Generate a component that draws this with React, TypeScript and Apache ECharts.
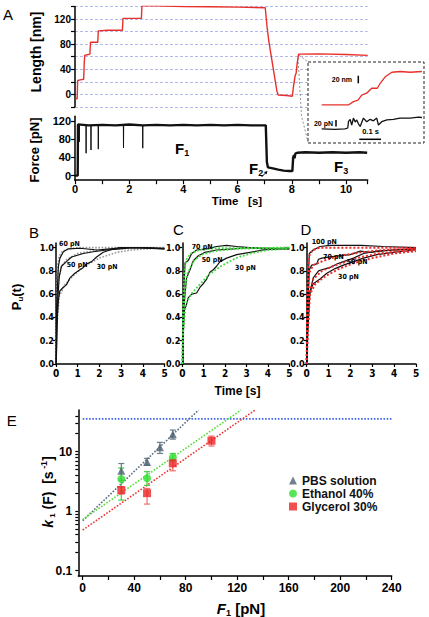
import React, { useEffect, useRef } from 'react';
import * as echarts from 'echarts';

const FONT = "'Liberation Sans', Arial, Helvetica, sans-serif";
const NARROW = "'Liberation Sans Narrow', 'DejaVu Sans Condensed', 'Liberation Sans', sans-serif";

// ---------- Panel A: length trace (time s, length nm)
const lengthTrace: number[][] = [
  [0.02, -7], [0.08, -7], [0.09, 10], [0.1, 22], [0.2, 23], [0.32, 24], [0.34, 50], [0.36, 62],
  [0.45, 63], [0.55, 64], [0.57, 83], [0.84, 83], [0.86, 101], [1.2, 102], [1.75, 102], [1.77, 121],
  [2.45, 121], [2.47, 141], [3, 141], [4, 140], [5, 139.5], [6, 139], [7.02, 138], [7.08, 110],
  [7.15, 85], [7.3, 45], [7.45, 5], [7.5, -1], [7.8, -2], [8.02, -3], [8.06, 12], [8.12, 29],
  [8.16, 34], [8.2, 50], [8.25, 64], [9, 64.5], [10, 63.5], [10.8, 62],
];
// ---------- Panel A: force trace (time s, force pN)
const forceTrace: number[][] = [
  [0, 0], [0.1, 0], [0.11, 112], [0.5, 110], [1, 111], [1.5, 110], [2, 112], [2.5, 110], [3, 111],
  [3.5, 110], [4, 111], [4.5, 110], [5, 111], [5.5, 110], [6, 111], [6.5, 110], [7.04, 110],
  [7.08, 30], [7.12, 18], [7.3, 16], [7.5, 13], [7.7, 11], [7.9, 10], [8.02, 10], [8.05, 40],
  [8.08, 45], [8.1, 38], [8.13, 48], [8.2, 50], [8.5, 51], [9, 50], [9.5, 51], [10, 50], [10.5, 51],
  [10.78, 50],
];
const forceSpikes: number[][] = [[0.16, 74], [0.41, 49], [0.59, 56], [0.86, 58], [1.79, 61], [2.5, 60]];
const lengthLabels = [0, 40, 80, 120];
const forceLabels = [0, 40, 80, 120];

// ---------- Inset (time s from inset start; length nm, force pN relative)
const insetLength: number[][] = [
  [0, 0], [0.123, 0], [0.146, 8.7], [0.167, 13], [0.184, 26], [0.207, 31], [0.23, 44], [0.256, 44],
  [0.269, 57], [0.292, 74], [0.323, 86], [0.361, 88], [0.407, 86], [0.461, 88],
];
const insetForce: number[][] = [
  [0, 0], [0.061, -1.7], [0.107, 0], [0.12, 3], [0.123, 24], [0.131, 32], [0.138, 13], [0.146, 36],
  [0.154, 23], [0.161, 30], [0.169, 17], [0.177, 8], [0.192, 36], [0.207, 24], [0.223, 32],
  [0.238, 27], [0.253, 36], [0.261, 13], [0.276, 24], [0.3, 30], [0.33, 32], [0.36, 36], [0.407, 36],
  [0.445, 39], [0.461, 38],
];

// ---------- Panels B, C, D: P_u(t)
const b60 = [[0.01, 0], [0.03, 0.5], [0.11, 0.84], [0.18, 0.91], [0.34, 0.965], [0.57, 0.99], [1.1, 0.995], [1.9, 0.98], [2.5, 0.99], [3.1, 1.0], [4.0, 1.0], [5, 0.995]];
const b50 = [[0.01, 0], [0.08, 0.55], [0.15, 0.75], [0.25, 0.84], [0.48, 0.88], [0.72, 0.92], [1.26, 0.95], [1.72, 0.965], [2.33, 0.98], [2.95, 0.99], [3.5, 1.0], [5, 0.99]];
const b30 = [[0.01, 0], [0.03, 0.32], [0.11, 0.55], [0.18, 0.63], [0.34, 0.66], [0.48, 0.68], [0.64, 0.74], [0.87, 0.78], [1.1, 0.81], [1.26, 0.83], [1.41, 0.86], [1.64, 0.88], [1.87, 0.92], [2.18, 0.96], [2.49, 0.98], [2.95, 1.0], [4, 1.0], [5, 0.99]];
const bFit60 = [[0, 0], [0.03, 0.6], [0.08, 0.85], [0.15, 0.93], [0.3, 0.97], [0.6, 0.99], [1, 1], [5, 1]];
const bFit50 = [[0, 0], [0.05, 0.5], [0.12, 0.72], [0.25, 0.84], [0.5, 0.9], [1, 0.95], [2, 0.98], [3, 0.99], [5, 1]];
const bFit30 = [[0, 0], [0.05, 0.35], [0.15, 0.58], [0.4, 0.68], [0.8, 0.76], [1.3, 0.84], [2, 0.91], [2.8, 0.96], [3.5, 0.98], [5, 1]];

const c70 = [[0.01, 0], [0.05, 0.55], [0.13, 0.87], [0.28, 0.89], [0.44, 0.95], [0.67, 0.98], [1.14, 0.99], [1.6, 1.01], [2.07, 1.02], [2.54, 1.01], [3.16, 1.0], [3.78, 0.99], [5, 0.99]];
const c50 = [[0.01, 0], [0.05, 0.41], [0.13, 0.61], [0.2, 0.74], [0.36, 0.81], [0.52, 0.89], [0.75, 0.93], [1.06, 0.96], [1.6, 0.98], [2.38, 0.99], [3.16, 1.0], [5, 0.99]];
const c30 = [[0.01, 0], [0.05, 0.27], [0.1, 0.47], [0.18, 0.5], [0.28, 0.57], [0.44, 0.6], [0.67, 0.61], [0.83, 0.66], [0.98, 0.69], [1.14, 0.73], [1.3, 0.79], [1.45, 0.81], [1.6, 0.84], [1.76, 0.88], [2.07, 0.91], [2.54, 0.94], [3.16, 0.96], [3.78, 0.98], [4.4, 0.99], [5, 1.0]];
const cFit70 = [[0, 0], [0.04, 0.55], [0.1, 0.8], [0.2, 0.9], [0.4, 0.95], [0.8, 0.98], [1.5, 0.995], [5, 1]];
const cFit50 = [[0, 0], [0.05, 0.42], [0.12, 0.63], [0.25, 0.78], [0.5, 0.88], [0.9, 0.94], [1.5, 0.97], [2.5, 0.99], [5, 1]];
const cFit30 = [[0, 0], [0.05, 0.3], [0.15, 0.5], [0.4, 0.6], [0.8, 0.68], [1.2, 0.76], [1.8, 0.84], [2.5, 0.91], [3.2, 0.95], [4, 0.98], [5, 0.99]];

const d100 = [[0.01, 0], [0.03, 0.55], [0.12, 0.95], [0.3, 0.98], [0.61, 1.01], [1.07, 1.02], [2.5, 1.02], [3.5, 1.01], [5, 1.0]];
const d70 = [[0.01, 0], [0.05, 0.47], [0.12, 0.81], [0.23, 0.85], [0.46, 0.86], [0.54, 0.9], [0.69, 0.91], [1.07, 0.92], [1.45, 0.93], [1.99, 0.94], [2.45, 0.97], [2.9, 0.96], [3.36, 0.97], [3.97, 0.98], [5, 0.99]];
const d50 = [[0.01, 0], [0.05, 0.41], [0.12, 0.59], [0.3, 0.74], [0.54, 0.8], [0.69, 0.81], [1.07, 0.83], [1.38, 0.86], [1.68, 0.88], [2.14, 0.91], [2.6, 0.95], [3.21, 0.97], [3.97, 0.98], [5, 0.99]];
const d30 = [[0.01, 0], [0.05, 0.27], [0.15, 0.62], [0.3, 0.69], [0.61, 0.73], [0.92, 0.78], [1.3, 0.82], [1.68, 0.85], [2.14, 0.88], [2.6, 0.91], [3.21, 0.94], [3.97, 0.96], [4.9, 0.98]];
const dFit100 = [[0, 0], [0.03, 0.6], [0.08, 0.88], [0.15, 0.95], [0.3, 0.98], [0.6, 1.0], [5, 1.0]];
const dFit70 = [[0, 0], [0.04, 0.5], [0.1, 0.78], [0.3, 0.85], [0.8, 0.89], [1.5, 0.93], [2.5, 0.96], [3.5, 0.98], [5, 0.99]];
const dFit50 = [[0, 0], [0.05, 0.42], [0.12, 0.6], [0.3, 0.73], [0.7, 0.8], [1.2, 0.84], [1.8, 0.88], [2.5, 0.92], [3.3, 0.95], [4.2, 0.97], [5, 0.98]];
const dFit30 = [[0, 0], [0.05, 0.3], [0.15, 0.6], [0.4, 0.69], [0.9, 0.76], [1.5, 0.82], [2.2, 0.87], [3, 0.91], [4, 0.95], [5, 0.97]];

// ---------- Panel E: k1(F)
const pbsF = [30, 50, 60, 70];
const pbsK = [4.75, 6.7, 11.8, 19.5];
const pbsLo = [3.3, 5.9, 9.3, 16.2];
const pbsHi = [6.3, 7.7, 14.3, 23];
const ethF = [30, 50, 70];
const ethK = [3.45, 3.55, 8.0];
const ethLo = [1.53, 2.7, 7.0];
const ethHi = [5.3, 4.6, 9.3];
const glyF = [30, 50, 70, 100];
const glyK = [2.25, 2.0, 6.35, 15.2];
const glyLo = [1.93, 1.31, 4.75, 12.4];
const glyHi = [2.56, 2.4, 7.4, 18.2];
const fitPBS = [[0, 0.69], [90, 50]];
const fitEth = [[0, 0.72], [123, 50]];
const fitGly = [[0, 0.48], [134, 50]];
const plateau = [[0, 35.5], [240, 35.5]];
const eXLabels = [0, 40, 80, 120, 160, 200, 240];
const eXTicks = [0, 20, 40, 60, 80, 100, 120, 140, 160, 180, 200, 220, 240];
const eYLabels = [0.1, 1, 10];
const eYTicks = [0.1, 0.2, 0.3, 0.4, 0.5, 0.6, 0.7, 0.8, 0.9, 1, 2, 3, 4, 5, 6, 7, 8, 9, 10, 20, 30, 40];

const C_PBS = '#4d6272';
const C_ETH = '#2ee02e';
const C_GLY = '#ee2222';

function mkAxis(gridIndex: number, extra: any, label: any = {}, tick: any = {}) {
  return {
    gridIndex,
    type: 'value',
    axisLine: { show: true, onZero: false, lineStyle: { color: '#000', width: 1.5 } },
    axisTick: { show: true, inside: false, length: 4, lineStyle: { color: '#000', width: 1.2 }, ...tick },
    axisLabel: { color: '#000', fontFamily: FONT, fontSize: 11, fontWeight: 'bold', margin: 4, ...label },
    splitLine: { show: false },
    ...extra,
  };
}

function line(data: any[], xi: number, yi: number, color: string, width: number, type: any = 'solid', z = 2) {
  return {
    type: 'line', xAxisIndex: xi, yAxisIndex: yi, data, showSymbol: false, symbol: 'none',
    lineStyle: { color, width, type }, z, silent: true, animation: false,
  };
}

function errSeries(xs: number[], lo: number[], hi: number[], color: string) {
  return {
    type: 'custom', xAxisIndex: 5, yAxisIndex: 5, silent: true, z: 3,
    data: xs.map((x, i) => [x, lo[i], hi[i]]),
    encode: { x: 0, y: [1, 2] },
    renderItem: (params: any, api: any) => {
      const x = api.value(0);
      const p1 = api.coord([x, api.value(2)]);
      const p2 = api.coord([x, api.value(1)]);
      const w = 3;
      const st = { stroke: color, lineWidth: 1.2 };
      return {
        type: 'group',
        children: [
          { type: 'line', shape: { x1: p1[0], y1: p1[1], x2: p2[0], y2: p2[1] }, style: st },
          { type: 'line', shape: { x1: p1[0] - w, y1: p1[1], x2: p1[0] + w, y2: p1[1] }, style: st },
          { type: 'line', shape: { x1: p2[0] - w, y1: p2[1], x2: p2[0] + w, y2: p2[1] }, style: st },
        ],
      };
    },
  };
}

function txt(text: string, x: number, y: number, font: string, align = 'left', extra: any = {}) {
  return {
    type: 'text', x, y, z: 10, silent: true, ...extra,
    style: { text, font, fill: '#000', textAlign: align, align, textVerticalAlign: 'middle', verticalAlign: 'middle' },
  };
}

function rich(text: string, x: number, y: number, richStyles: any, align = 'left', rotation = 0) {
  return {
    type: 'text', x, y, rotation, z: 10, silent: true,
    style: { text, rich: richStyles, fill: '#000', textAlign: align, align, textVerticalAlign: 'middle', verticalAlign: 'middle' },
  };
}

function hline(x1: number, y1: number, x2: number, y2: number, color = '#000', width = 1, dash: any = null) {
  return {
    type: 'line', z: 10, silent: true,
    shape: { x1, y1, x2, y2 },
    style: { stroke: color, lineWidth: width, lineDash: dash },
  };
}

export default function App() {
  const ref = useRef<HTMLDivElement>(null);
  useEffect(() => {
    if (!ref.current) return;
    const chart = echarts.init(ref.current, null, { renderer: 'svg' });

    const spikeData: any[] = [];
    forceSpikes.forEach(([t, lo]) => {
      spikeData.push([t - 0.006, 110], [t, lo], [t + 0.006, 110], [t, '-']);
    });

    const yPu = (gi: number) => mkAxis(gi, { min: 0, max: 1.04, interval: 0.2 },
      { fontFamily: NARROW, fontSize: 9, margin: 2, formatter: (v: number) => v.toFixed(1) }, { length: 3 });
    const xPu = (gi: number) => mkAxis(gi, { min: 0, max: 5, interval: 1 },
      { fontFamily: NARROW, fontSize: 10, margin: 4 }, { length: 3 });

    const subRich = (size: number) => ({
      a: { font: `bold ${size}px ${FONT}`, lineHeight: size + 3, verticalAlign: 'middle' },
      i: { font: `italic bold ${size}px ${FONT}`, lineHeight: size + 3, verticalAlign: 'middle' },
      s: { font: `bold ${Math.round(size * 0.58)}px ${FONT}`, lineHeight: Math.round(size * 0.6), verticalAlign: 'bottom' },
      u: { font: `bold ${Math.round(size * 0.62)}px ${FONT}`, lineHeight: Math.round(size * 0.6), verticalAlign: 'top' },
    });

    const pnFont = `bold 7px ${NARROW}`;

    const option: any = {
      animation: false,
      backgroundColor: '#fff',
      grid: [
        { left: 75, top: 6.45, width: 292.7, height: 100.4 },
        { left: 75, top: 116.2, width: 292.7, height: 64 },
        { left: 56, top: 243, width: 108.5, height: 121 },
        { left: 182.3, top: 243, width: 107, height: 121 },
        { left: 306.7, top: 243, width: 109.3, height: 121 },
        { left: 78.3, top: 410, width: 313.4, height: 166 },
        { left: 321.7, top: 62, width: 100, height: 81 },
      ],
      xAxis: [
        { gridIndex: 0, type: 'value', min: 0, max: 10.8, show: false },
        mkAxis(1, { min: 0, max: 10.8, interval: 1 },
          { formatter: (v: number) => (v % 2 === 0 ? String(v) : ''), margin: 3 }),
        xPu(2), xPu(3), xPu(4),
        mkAxis(5, { min: -3.4, max: 240 },
          { fontSize: 12, margin: 6, customValues: eXLabels, formatter: (v: number) => String(Math.round(v)) },
          { length: 4, customValues: eXTicks }),
        { gridIndex: 6, type: 'value', min: 0, max: 0.46, show: false },
      ],
      yAxis: [
        mkAxis(0, {
          min: -20, max: 140, interval: 20,
          splitLine: { show: true, lineStyle: { color: '#b4b8ea', width: 1, type: [3, 2] } },
        }, { fontSize: 10, formatter: (v: number) => (lengthLabels.indexOf(v) >= 0 ? String(v) : '') }),
        mkAxis(1, { min: -10, max: 130, interval: 10 },
          { customValues: forceLabels, formatter: (v: number) => (forceLabels.indexOf(v) >= 0 ? String(v) : '') },
          { customValues: forceLabels }),
        yPu(2), yPu(3), yPu(4),
        mkAxis(5, { type: 'log', logBase: 10, min: 0.081, max: 50 },
          { fontSize: 12, margin: 6, customValues: eYLabels, formatter: (v: number) => (v < 0.5 ? '0.1' : String(Math.round(v))) },
          { length: 3, customValues: eYTicks }),
        { gridIndex: 6, type: 'value', min: -100, max: 113, show: false },
        { gridIndex: 6, type: 'value', min: -47, max: 223, show: false },
      ],
      legend: {
        data: [
          { name: 'PBS solution', icon: 'triangle' },
          { name: 'Ethanol 40%', icon: 'circle' },
          { name: 'Glycerol 30%', icon: 'rect' },
        ],
        orient: 'vertical', left: 289, top: 474, itemWidth: 8, itemHeight: 8, itemGap: 0,
        padding: 0,
        textStyle: { fontFamily: FONT, fontSize: 12, fontWeight: 'bold', color: '#111', lineHeight: 13 },
        selectedMode: false,
      },
      series: [
        // Panel A
        line(lengthTrace, 0, 0, '#e8302a', 1.4),
        line(forceTrace, 1, 1, '#111', 2.4),
        line(spikeData, 1, 1, '#111', 1),
        // Inset
        { ...line(insetLength, 6, 6, '#e8302a', 1.3), z: 12 },
        { ...line(insetForce, 6, 7, '#111', 1.3), z: 12 },
        // B
        line(bFit60, 2, 2, '#9a9a9a', 1.6, 'dotted'),
        line(bFit50, 2, 2, '#9a9a9a', 1.6, 'dotted'),
        line(bFit30, 2, 2, '#9a9a9a', 1.6, 'dotted'),
        line(b60, 2, 2, '#111', 1.2),
        line(b50, 2, 2, '#111', 1.2),
        line(b30, 2, 2, '#111', 1.2),
        // C
        line(c70, 3, 3, '#111', 1.2),
        line(c50, 3, 3, '#111', 1.2),
        line(c30, 3, 3, '#111', 1.2),
        line(cFit70, 3, 3, '#3fdc3f', 1.8, 'dotted', 3),
        line(cFit50, 3, 3, '#3fdc3f', 1.8, 'dotted', 3),
        line(cFit30, 3, 3, '#3fdc3f', 1.8, 'dotted', 3),
        // D
        line(d100, 4, 4, '#111', 1.2),
        line(d70, 4, 4, '#111', 1.2),
        line(d50, 4, 4, '#111', 1.2),
        line(d30, 4, 4, '#111', 1.2),
        line(dFit100, 4, 4, '#ee2a2a', 2, 'dotted', 3),
        line(dFit70, 4, 4, '#ee2a2a', 2, 'dotted', 3),
        line(dFit50, 4, 4, '#ee2a2a', 2, 'dotted', 3),
        line(dFit30, 4, 4, '#ee2a2a', 2, 'dotted', 3),
        // E
        line(plateau, 5, 5, '#4466ee', 1.6, 'dotted'),
        line(fitPBS, 5, 5, '#5a6c7c', 1.6, 'dotted'),
        line(fitEth, 5, 5, '#55dd33', 1.6, 'dotted'),
        line(fitGly, 5, 5, '#ee3333', 1.6, 'dotted'),
        errSeries(pbsF, pbsLo, pbsHi, '#6a7c8a'),
        errSeries(ethF, ethLo, ethHi, '#44cc44'),
        errSeries(glyF, glyLo, glyHi, '#f06a6a'),
        {
          type: 'scatter', name: 'PBS solution', xAxisIndex: 5, yAxisIndex: 5, symbol: 'triangle', symbolSize: 8,
          itemStyle: { color: C_PBS }, data: pbsF.map((f, i) => [f, pbsK[i]]), z: 4, silent: true,
        },
        {
          type: 'scatter', name: 'Ethanol 40%', xAxisIndex: 5, yAxisIndex: 5, symbol: 'circle', symbolSize: 8,
          itemStyle: { color: C_ETH }, data: ethF.map((f, i) => [f, ethK[i]]), z: 4, silent: true,
        },
        {
          type: 'scatter', name: 'Glycerol 30%', xAxisIndex: 5, yAxisIndex: 5, symbol: 'rect', symbolSize: 8,
          itemStyle: { color: C_GLY }, data: glyF.map((f, i) => [f, glyK[i]]), z: 4, silent: true,
        },
      ],
      graphic: [
        // inset box (white, covers grid lines)
        {
          type: 'rect', z: 1, silent: true,
          shape: { x: 308, y: 62, width: 116, height: 81 },
          style: { fill: '#fff', stroke: '#222', lineWidth: 1, lineDash: [3, 2] },
        },
        hline(299, 55, 308, 62, '#777', 0.8, [2, 2]),
        { type: 'polyline', z: 10, silent: true, shape: { points: [[298, 58], [301.5, 116], [308, 142]] }, style: { stroke: '#777', lineWidth: 0.8, lineDash: [2, 2], fill: null } },
        txt('20 nm', 352, 79, `bold 7px ${FONT}`, 'right'),
        hline(358.3, 75.7, 358.3, 83.3, '#000', 1.5),
        txt('20 pN', 333, 123.3, `bold 7px ${FONT}`, 'right'),
        hline(336, 120, 336, 126.5, '#000', 1.5),
        txt('0.1 s', 370.5, 131.7, `bold 7.5px ${FONT}`, 'center'),
        hline(359.3, 139.3, 381, 139.3, '#000', 1.5),
        // Panel A labels
        txt('A', 3, 14, `15px ${FONT}`),
        txt('Length [nm]', 36, 52, `bold 14px ${FONT}`, 'center', { rotation: Math.PI / 2 }),
        txt('Force [pN]', 34, 150, `bold 13px ${FONT}`, 'center', { rotation: Math.PI / 2 }),
        txt('Time\u00a0\u00a0\u00a0[s]', 237, 201, `bold 11.5px ${FONT}`, 'center'),
        rich('{a|F}{s|1}', 175, 148, subRich(15)),
        rich('{a|F}{s|2}', 249, 168, subRich(15)),
        rich('{a|F}{s|3}', 334, 166.5, subRich(15)),
        hline(261.5, 177, 266.5, 172, '#000', 1),
        { type: 'polygon', z: 10, silent: true, shape: { points: [[267.5, 171], [264, 172], [266.5, 174.5]] }, style: { fill: '#000' } },
        // Panels B-D labels
        txt('B', 29, 232, `15px ${FONT}`),
        txt('C', 173, 229, `15px ${FONT}`),
        txt('D', 300.5, 229, `15px ${FONT}`),
        rich('{a|P}{s|u}{a|(t)}', 16, 297, subRich(13), 'center', Math.PI / 2),
        txt('60 pN', 59, 243.5, pnFont),
        txt('50 pN', 66.7, 265, pnFont),
        txt('30 pN', 96.7, 266.7, pnFont),
        txt('70 pN', 191.7, 246.7, pnFont),
        txt('50 pN', 201.7, 260, pnFont),
        txt('30 pN', 235, 268.3, pnFont),
        txt('100 pN', 311.7, 241.7, pnFont),
        txt('70 pN', 323, 256.7, pnFont),
        txt('50 pN', 346.7, 261.7, pnFont),
        txt('30 pN', 338, 276.7, pnFont),
        txt('Time [s]', 237.5, 391, `bold 12px ${FONT}`, 'center'),
        // Panel E labels
        txt('E', 6.7, 420, `15px ${FONT}`),
        rich('{i|k}{s| 1}{a| (F)  [s}{u| -1}{a|]}', 48, 492, subRich(14), 'center', Math.PI / 2),
        rich('{i|F}{s|1}{a| [pN]}', 241, 608, subRich(15), 'center'),
      ],
    };
    chart.setOption(option);
    return () => chart.dispose();
  }, []);
  return (
    <div
      ref={ref}
      style={{ position: 'fixed', left: 0, top: 0, width: 429, height: 617, background: '#fff' }}
    />
  );
}
